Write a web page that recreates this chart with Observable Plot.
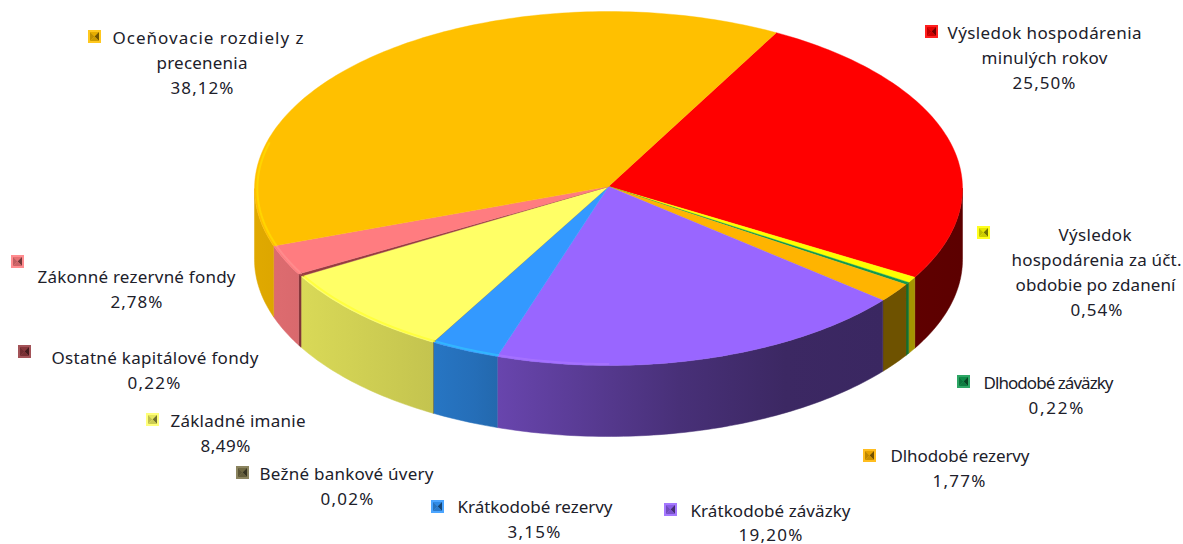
<!DOCTYPE html>
<html lang="sk">
<head>
<meta charset="utf-8">
<title>Štruktúra pasív</title>
<script src="https://cdn.jsdelivr.net/npm/d3@7"></script>
<script src="https://cdn.jsdelivr.net/npm/@observablehq/plot@0.6"></script>
<style>
  html, body { margin: 0; background: #fff; }
  svg { display: block; }
</style>
</head>
<body>
<div id="chart"></div>
<script>
// Slices clockwise, first one starting at the red/orange boundary.
const categories = [
  "Výsledok hospodárenia minulých rokov",
  "Výsledok hospodárenia za účt. obdobie po zdanení",
  "Dlhodobé záväzky",
  "Dlhodobé rezervy",
  "Krátkodobé záväzky",
  "Krátkodobé rezervy",
  "Bežné bankové úvery",
  "Základné imanie",
  "Ostatné kapitálové fondy",
  "Zákonné rezervné fondy",
  "Oceňovacie rozdiely z precenenia"
];
const shares = [25.5, 0.54, 0.22, 1.77, 19.2, 3.15, 0.02, 8.49, 0.22, 2.78, 38.12];
const shareLabels = ["25,50%", "0,54%", "0,22%", "1,77%", "19,20%", "3,15%", "0,02%", "8,49%", "0,22%", "2,78%", "38,12%"];
const colors = ["#ff0000", "#ffff00", "#109a50", "#ffb400", "#9966ff", "#3399ff", "#7b7349", "#ffff66", "#963c41", "#ff7c80", "#ffc000"];
const rimColors = ["#ff0000", "#ffff00", "#109a50", "#ffb400", "#a975ff", "#33c0ff", "#7b7349", "#ffff33", "#963c41", "#ff9090", "#ffdc00"];
// The narrow slices on the right keep a flat wall colour of their own.
const flatWalls = {1: "#a49400", 2: "#14702f", 3: "#6e5200"};

// Wrapped label lines for each category (the last line is the share).
const labelLines = [
  ["Výsledok hospodárenia", "minulých rokov"],
  ["Výsledok", "hospodárenia za účt.", "obdobie po zdanení"],
  ["Dlhodobé záväzky"],
  ["Dlhodobé rezervy"],
  ["Krátkodobé záväzky"],
  ["Krátkodobé rezervy"],
  ["Bežné bankové úvery"],
  ["Základné imanie"],
  ["Ostatné kapitálové fondy"],
  ["Zákonné rezervné fondy"],
  ["Oceňovacie rozdiely z", "precenenia"]
];

// Label placement: one [left, right, centre y] per line, share line included.
const labelPlacement = [
  [[947, 1141, 33], [981, 1107, 58], [1012, 1075, 83]],
  [[1058, 1131, 235], [1011, 1181, 260], [1015, 1175, 285], [1070, 1122, 310]],
  [[983, 1113, 383], [1028, 1083, 408]],
  [[890, 1029, 456], [932, 985, 481]],
  [[690, 850, 511], [738, 802, 535]],
  [[457, 612, 507], [507, 560, 532]],
  [[259, 433, 474], [320, 373, 499]],
  [[170, 305, 421], [200, 250, 446]],
  [[51, 258, 358], [127, 180, 383]],
  [[37, 235, 277], [110, 162, 302]],
  [[112, 303, 38], [156, 247, 63], [170, 233, 88]]
];
// Centre of each small legend key beside its label.
const keyPlacement = [[931, 31], [983, 232], [963, 381], [869, 455], [670, 509], [437, 506], [242, 472], [152, 419], [24, 351], [17, 261], [94, 36]];

// Pie geometry on the page.
const cx = 608, cy = 188, rx = 354, ry = 177, depth = 71, firstAngle = 28.3;

const point = (deg, k = 1, drop = 0) => {
  const a = deg * Math.PI / 180;
  return {x: cx + k * rx * Math.sin(a), y: cy + drop - k * ry * Math.cos(a)};
};

// Wall brightness falls from the left side of the pie to the right.
const shadeStops = [[-1, 0.88], [-0.87, 0.85], [-0.5, 0.77], [-0.38, 0.72], [-0.31, 0.68], [0.2, 0.47], [0.5, 0.39], [0.78, 0.38], [1, 0.36]];
const darken = (c, k) => {
  const r = d3.rgb(c);
  return d3.rgb(r.r * k, r.g * k, r.b * k).formatHex();
};

const total = d3.sum(shares);
let running = firstAngle;
const slices = categories.map((name, i) => {
  const a0 = running;
  const a1 = a0 + shares[i] / total * 360;
  running = a1;
  return {name, a0, a1, color: colors[i], rim: rimColors[i], index: i};
});

const arc = (from, to, k, drop) => {
  const n = Math.max(2, Math.ceil(Math.abs(to - from)));
  return d3.range(n + 1).map((i) => point(from + (to - from) * i / n, k, drop));
};

const faces = [], walls = [], rims = [];
for (const s of slices) {
  const apex = point(0, 0, -2);
  for (const p of [apex, ...arc(s.a0, s.a1, 1, 0), apex]) faces.push({id: s.name, fill: s.color, ...p});

  // Side wall wherever the rim faces the viewer, filled with the slice's gradient.
  for (const [lo, hi] of [[90, 270], [450, 630]]) {
    const from = Math.max(s.a0, lo), to = Math.min(s.a1, hi);
    if (to <= from) continue;
    const id = `${s.index}-${lo}`, fill = flatWalls[s.index] ?? `url(#wall-${s.index})`;
    for (const p of [...arc(from, to, 1, 0), ...arc(to, from, 1, depth), point(from)]) walls.push({id, fill, ...p});
  }

  // Bright bevel along the lit part of the front rim.
  const from = Math.max(s.a0, 180), to = Math.min(s.a1, 285);
  if (to > from) for (const p of arc(from, to, 0.992, 0)) rims.push({id: s.name, stroke: s.rim, ...p});
}

const textRows = labelLines.flatMap((lines, i) =>
  [...lines, shareLabels[i]].map((text, j) => {
    const [left, right, y] = labelPlacement[i][j];
    return {text, x: (left + right) / 2, y, length: right - left};
  })
);

// Legend keys: a bright square with a four-faceted bevel inside it.
const keyPolys = [];
keyPlacement.forEach(([x, y], i) => {
  const c = colors[i], o = 6.5, h = 4.5;
  const add = (id, fill, pts) => pts.forEach(([px, py]) => keyPolys.push({id: `${i}-${id}`, fill, x: x + px, y: y + py}));
  add("base", d3.interpolateRgb(c, "#fff")(0.12), [[-o, -o], [o, -o], [o, o], [-o, o], [-o, -o]]);
  add("top", darken(c, 0.9), [[-h, -h], [h, -h], [0, 0], [-h, -h]]);
  add("right", darken(c, 0.45), [[h, -h], [h, h], [0, 0], [h, -h]]);
  add("left", darken(c, 0.75), [[-h, -h], [-h, h], [0, 0], [-h, -h]]);
  add("bottom", darken(c, 0.8), [[-h, h], [h, h], [0, 0], [-h, h]]);
});

// One left-to-right gradient per slice, shared by that slice's wall pieces.
const wallGradients = (index, {x}) => {
  const defs = d3.create("svg:defs");
  for (const s of slices) {
    const g = defs.append("linearGradient")
      .attr("id", `wall-${s.index}`)
      .attr("gradientUnits", "userSpaceOnUse")
      .attr("x1", x(cx - rx)).attr("x2", x(cx + rx))
      .attr("y1", 0).attr("y2", 0);
    for (const [pos, k] of shadeStops) {
      g.append("stop").attr("offset", (pos + 1) / 2).attr("stop-color", darken(s.color, k));
    }
  }
  return defs.node();
};

const chart = Plot.plot({
  width: 1183,
  height: 544,
  margin: 0,
  style: {background: "#fff", overflow: "visible"},
  x: {domain: [0, 1183], range: [0, 1183], axis: null},
  y: {domain: [0, 544], range: [0, 544], axis: null},
  color: {type: "identity"},
  marks: [
    wallGradients,
    Plot.line(walls, {x: "x", y: "y", z: "id", fill: "fill", stroke: "fill", strokeWidth: 0.5}),
    Plot.line(faces, {x: "x", y: "y", z: "id", fill: "fill", stroke: "fill", strokeWidth: 0.4}),
    Plot.line(rims, {x: "x", y: "y", z: "id", stroke: "stroke", strokeWidth: 2, strokeOpacity: 0.75}),
    Plot.line(keyPolys, {x: "x", y: "y", z: "id", fill: "fill", stroke: null}),
    Plot.text(textRows, {
      x: "x", y: "y", text: "text", className: "pie-label",
      fontFamily: "'Noto Sans', sans-serif", fontSize: 17, fill: "#20202a", textAnchor: "middle", lineAnchor: "middle"
    })
  ]
});

// Each label line is spaced out to its own measured width.
d3.select(chart).selectAll(".pie-label text")
  .attr("textLength", (_, i) => textRows[i].length)
  .attr("lengthAdjust", "spacing");

document.getElementById("chart").append(chart);
</script>
</body>
</html>
